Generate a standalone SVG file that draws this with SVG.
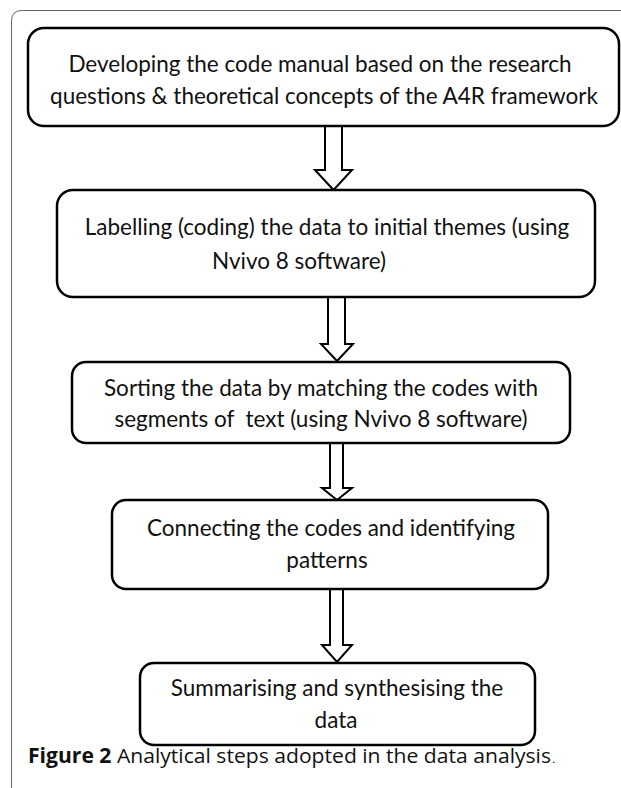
<svg xmlns="http://www.w3.org/2000/svg" width="621" height="788" viewBox="0 0 621 788">
  <defs>
    <style>
      .frame { fill: none; stroke: #666; stroke-width: 1; }
      .box { fill: #fff; stroke: #000; stroke-width: 2.5; }
      .arrow { fill: #fff; stroke: #000; stroke-width: 2; stroke-linejoin: miter; }
      .lbl { font-family: Lato, "Open Sans", sans-serif; font-size: 22.5px; fill: #111; text-anchor: middle; }
      .cap { font-family: "Open Sans", "Noto Sans", sans-serif; font-size: 20.5px; fill: #111; }
      .capb { font-weight: bold; }
    </style>
  </defs>

  <rect width="621" height="788" fill="#fff"/>

  <!-- outer figure frame: top and left rules with a rounded corner -->
  <path class="frame" d="M11.5,788 V21 Q11.5,10.5 22,10.5 H621"/>

  <!-- connectors: hollow block arrows -->
  <g id="connectors">
    <path class="arrow" d="M325,126 H342 V170 H352 L333.5,190 L315,170 H325 Z"/>
    <path class="arrow" d="M328,297 H345 V344 H353 L337,361 L321,344 H328 Z"/>
    <path class="arrow" d="M330,443 H343 V488 H352 L337,500 L322,488 H330 Z"/>
    <path class="arrow" d="M330,589 H343 V645 H352 L337,662 L322,645 H330 Z"/>
  </g>

  <g id="step1">
    <rect class="box" x="28" y="28" width="591" height="98" rx="16"/>
    <text class="lbl" x="320" y="72">Developing the code manual based on the research</text>
    <text class="lbl" x="324" y="104">questions &amp; theoretical concepts of the A4R framework</text>
  </g>

  <g id="step2">
    <rect class="box" x="57" y="190" width="538" height="107" rx="16"/>
    <text class="lbl" x="327" y="235">Labelling (coding) the data to initial themes (using</text>
    <text class="lbl" x="299" y="269">Nvivo 8 software)</text>
  </g>

  <g id="step3">
    <rect class="box" x="72" y="362" width="498" height="81" rx="14"/>
    <text class="lbl" x="321" y="396">Sorting the data by matching the codes with</text>
    <text class="lbl" x="321" y="427">segments of&#160; text (using Nvivo 8 software)</text>
  </g>

  <g id="step4">
    <rect class="box" x="112" y="500" width="436" height="89" rx="14"/>
    <text class="lbl" x="331" y="536">Connecting the codes and identifying</text>
    <text class="lbl" x="327" y="568">patterns</text>
  </g>

  <g id="step5">
    <rect class="box" x="140" y="663" width="395" height="82" rx="14"/>
    <text class="lbl" x="337" y="696">Summarising and synthesising the</text>
    <text class="lbl" x="336" y="728">data</text>
  </g>

  <text class="cap" x="28" y="763" textLength="523" lengthAdjust="spacingAndGlyphs"><tspan class="capb">Figure 2</tspan> Analytical steps adopted in the data analysis</text>
  <text x="552" y="763" font-family="Liberation Serif, serif" font-size="13" fill="#111">.</text>
</svg>
